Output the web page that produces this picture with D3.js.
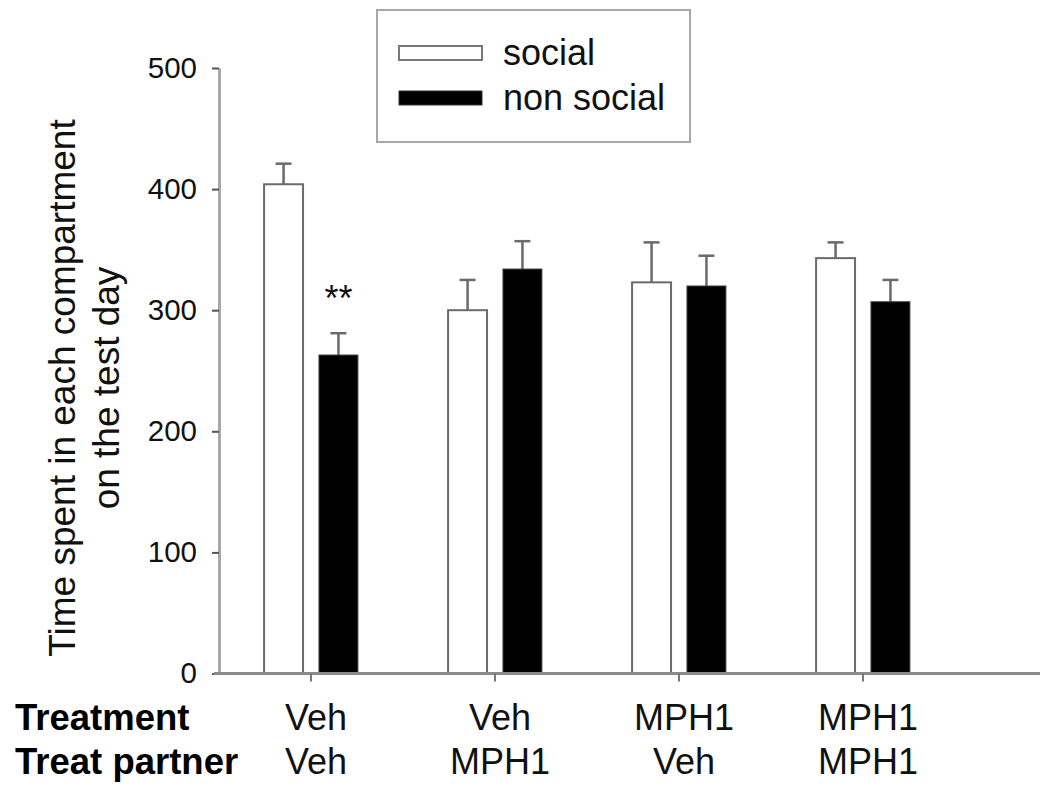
<!DOCTYPE html>
<html>
<head>
<meta charset="utf-8">
<script src="https://cdn.jsdelivr.net/npm/d3@7"></script>
<style>
  body { margin: 0; background: #fff; }
  svg { display: block; font-family: Arial, "Liberation Sans", sans-serif; }
</style>
</head>
<body>
<svg id="chart"></svg>
<script>
// groups along the x axis
const groups = ["g1", "g2", "g3", "g4"]
const treatment = ["Veh", "Veh", "MPH1", "MPH1"]
const partner = ["Veh", "MPH1", "Veh", "MPH1"]
// series (mean + upper error)
const seriesNames = ["social", "non social"]
const social = [404, 300, 323, 343]
const socialErr = [17, 25, 33, 13]
const nonSocial = [263, 334, 320, 307]
const nonSocialErr = [18, 23, 25, 18]
const nonSocialMarks = ["**", "", "", ""]
const yTicks = [0, 100, 200, 300, 400, 500]

const W = 1040, H = 790
const svg = d3.select("#chart").attr("width", W).attr("height", H)

// scales
const y = d3.scaleLinear().domain([0, 500]).range([673.5, 68])
const x = d3.scaleBand().domain(groups).range([219, 955])
    .paddingInner(0.49).paddingOuter(0.245)
const inner = d3.scaleBand().domain(seriesNames).range([0, x.bandwidth()])
    .paddingInner(0.29)

const fills = { "social": "#fff", "non social": "#000" }

// build rows from the arrays
const rows = []
groups.forEach((g, i) => {
    rows.push({ g, s: "social", v: social[i], e: socialErr[i], mark: "" })
    rows.push({ g, s: "non social", v: nonSocial[i], e: nonSocialErr[i], mark: nonSocialMarks[i] })
})

// error bars (upper only), drawn behind the bars
const eb = svg.append("g")
rows.forEach(d => {
    const cx = x(d.g) + inner(d.s) + inner.bandwidth() / 2
    eb.append("line")
        .attr("x1", cx).attr("x2", cx)
        .attr("y1", y(d.v)).attr("y2", y(d.v + d.e))
        .attr("stroke", "#6a6a6a").attr("stroke-width", 2.5)
    eb.append("line")
        .attr("x1", cx - 8).attr("x2", cx + 8)
        .attr("y1", y(d.v + d.e)).attr("y2", y(d.v + d.e))
        .attr("stroke", "#6a6a6a").attr("stroke-width", 2.5)
})

// bars
svg.append("g").selectAll("rect").data(rows).join("rect")
    .attr("x", d => x(d.g) + inner(d.s))
    .attr("width", inner.bandwidth())
    .attr("y", d => y(d.v))
    .attr("height", d => y(0) - y(d.v))
    .attr("fill", d => fills[d.s])
    .attr("stroke", d => d.s === "social" ? "#6a6a6a" : "#444")
    .attr("stroke-width", d => d.s === "social" ? 2 : 1)

// significance marks
svg.append("g").selectAll("text").data(rows.filter(d => d.mark)).join("text")
    .attr("x", d => x(d.g) + inner(d.s) + inner.bandwidth() / 2)
    .attr("y", d => y(d.v + d.e) - 22)
    .attr("text-anchor", "middle")
    .attr("font-size", 36)
    .attr("fill", "#111")
    .text(d => d.mark)

// y axis
const yAxis = svg.append("g").attr("transform", "translate(219,0)")
    .call(d3.axisLeft(y).tickValues(yTicks).tickSize(7).tickSizeOuter(0).tickPadding(15))
yAxis.select(".domain").attr("stroke", "#a8a8a8").attr("stroke-width", 3)
yAxis.selectAll(".tick line").attr("stroke", "#555").attr("stroke-width", 2)
yAxis.selectAll(".tick text").attr("font-size", 29.5).attr("fill", "#111")

// x axis, baseline runs to the right edge
const xAxis = svg.append("g").attr("transform", `translate(0,${y(0)})`)
    .call(d3.axisBottom(x).tickSize(8).tickSizeOuter(0).tickFormat(""))
xAxis.select(".domain").attr("d", `M214,0H${W}`)
    .attr("stroke", "#8a8a8a").attr("stroke-width", 3)
xAxis.selectAll(".tick line").attr("stroke", "#777").attr("stroke-width", 2)

// y axis title
const title = svg.append("text")
    .attr("transform", "translate(75,388) rotate(-90)")
    .attr("text-anchor", "middle")
    .attr("font-size", 37)
    .attr("fill", "#111")
title.append("tspan").attr("x", 0).attr("dy", 0).text("Time spent in each compartment")
title.append("tspan").attr("x", 0).attr("dy", 44).text("on the test day")

// category label rows
svg.append("text").attr("x", 15).attr("y", 730)
    .attr("font-size", 36.5).attr("font-weight", "bold").attr("fill", "#000")
    .text("Treatment")
svg.append("text").attr("x", 15).attr("y", 774)
    .attr("font-size", 36.5).attr("font-weight", "bold").attr("fill", "#000")
    .text("Treat partner")
svg.append("g").selectAll("text").data(groups).join("text")
    .attr("x", d => x(d) + x.bandwidth() / 2 + 5)
    .attr("y", 730)
    .attr("text-anchor", "middle")
    .attr("font-size", 36).attr("fill", "#111")
    .text((d, i) => treatment[i])
svg.append("g").selectAll("text").data(groups).join("text")
    .attr("x", d => x(d) + x.bandwidth() / 2 + 5)
    .attr("y", 774)
    .attr("text-anchor", "middle")
    .attr("font-size", 36).attr("fill", "#111")
    .text((d, i) => partner[i])

// legend
const lg = svg.append("g")
lg.append("rect").attr("x", 377).attr("y", 10).attr("width", 313).attr("height", 132)
    .attr("fill", "#fff").attr("stroke", "#a8a8a8").attr("stroke-width", 2)
seriesNames.forEach((s, i) => {
    lg.append("rect")
        .attr("x", 399).attr("y", 46 + i * 45)
        .attr("width", 83).attr("height", 14)
        .attr("fill", fills[s])
        .attr("stroke", s === "social" ? "#777" : "#333")
        .attr("stroke-width", s === "social" ? 2 : 1)
    lg.append("text")
        .attr("x", 503).attr("y", 65 + i * 45)
        .attr("font-size", 36).attr("fill", "#111")
        .text(s)
})
</script>
</body>
</html>
